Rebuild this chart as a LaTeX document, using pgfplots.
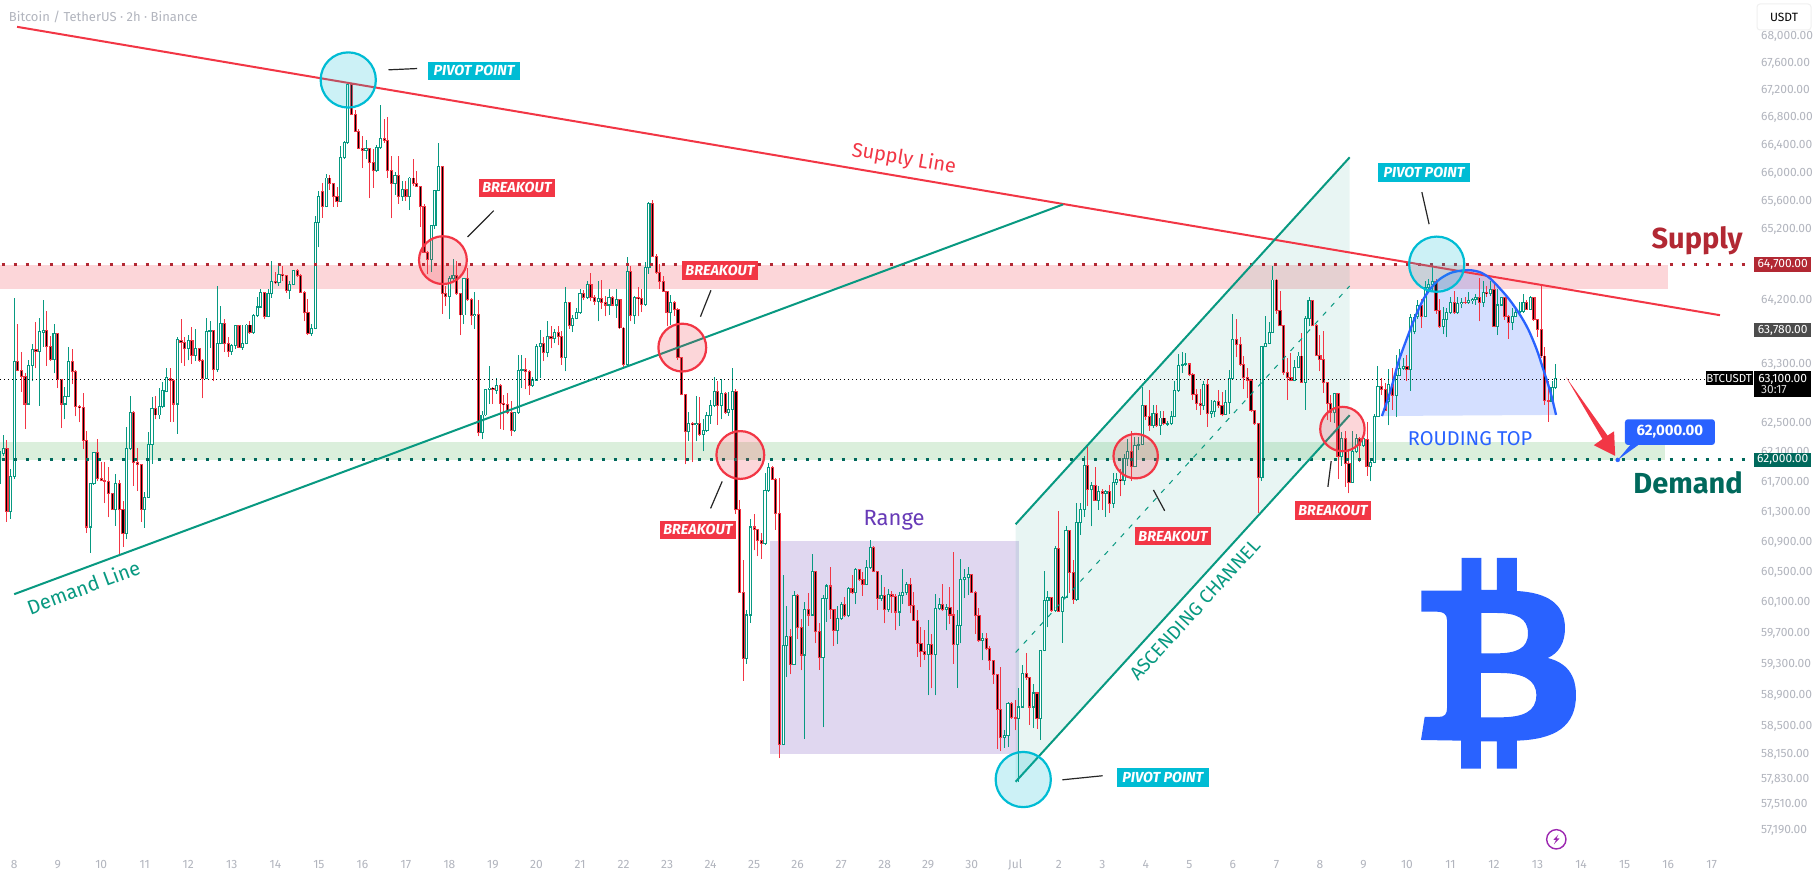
\documentclass[border=0pt]{standalone}
\usepackage{fontspec}
\setmainfont{Fira Sans}
\usepackage{pgfplots}
\usepackage{pgfplotstable}
\pgfplotsset{compat=1.18}

\definecolor{upc}{HTML}{089981}
\definecolor{dnc}{HTML}{F23645}
\definecolor{cy}{HTML}{00BCD4}
\definecolor{bl}{HTML}{2962FF}
\definecolor{pu}{HTML}{673AB7}
\definecolor{gz}{HTML}{4CAF50}
\definecolor{supd}{HTML}{B22833}
\definecolor{demd}{HTML}{00695C}
\definecolor{tickc}{HTML}{B2B5BE}
\definecolor{evc}{HTML}{9C27B0}
\newcommand{\fs}[1]{\fontsize{#1}{#1}\selectfont}

% 2h bars, n=0 is 8 Jun 00:00: n open high low close
\pgfplotstableread{
n o h l c
-4 61680 62320 61670 62110
-3 62090 62340 62060 62160
-2 62160 62270 61170 61310
-1 61310 61880 61210 61780
0 61780 64230 61740 63350
1 63350 63870 63210 63220
2 63220 63470 62930 63140
3 63140 63190 62420 62760
4 62760 63360 62750 63290
5 63290 63580 63070 63510
6 63510 63890 63250 63480
7 63480 63950 62740 63760
8 63750 64200 63550 63770
9 63770 64050 63290 63550
10 63550 63700 63350 63370
11 63370 63860 63180 63730
12 63730 63740 62980 63100
13 63100 63110 62430 62760
14 62760 62990 62550 62870
15 62870 63540 62860 63350
16 63350 63520 63030 63210
17 63210 63220 62590 62730
18 62730 62750 62510 62710
19 62710 62910 62150 62270
20 62270 62400 61020 61100
21 61100 61690 60760 61680
22 61680 62110 61670 62100
23 62100 62280 61710 61750
24 61750 61970 61710 61720
25 61720 61970 61420 61710
26 61710 61900 61230 61550
27 61550 61560 61330 61340
28 61330 61810 61120 61680
29 61680 61730 60740 61330
30 61330 61450 60840 61010
31 61010 62450 60940 62150
32 62150 62870 62140 62650
33 62650 62660 61650 61970
34 61970 62160 61580 61940
35 61940 61950 61170 61340
36 61340 61570 61090 61500
37 61500 62380 61490 62210
38 62210 62860 61950 62700
39 62700 62870 62550 62610
40 62610 62980 62560 62730
41 62730 63060 62700 62940
42 62930 63260 62920 63120
43 63110 63250 62520 63080
44 63080 63100 62520 62760
45 62760 63680 62360 63650
46 63640 63940 63320 63610
47 63610 63690 63290 63520
48 63520 63710 63360 63640
49 63640 63820 63310 63430
50 63430 63790 63350 63520
51 63520 63530 63340 63360
52 63360 63380 62840 63110
53 63110 63950 63100 63760
54 63760 63900 63530 63770
55 63770 63780 63070 63230
56 63230 64390 63200 63590
57 63590 64110 63580 63870
58 63870 63940 63480 63590
59 63590 63690 63410 63480
60 63480 63590 63440 63570
61 63570 63850 63520 63840
62 63840 63850 63530 63540
63 63540 63850 63510 63590
64 63590 63870 63580 63850
65 63850 63910 63730 63740
66 63740 64000 63730 63980
67 63980 64240 63960 64100
68 64100 64350 64090 64300
69 64300 64310 63930 63970
70 63970 64350 63960 64290
71 64290 64750 64230 64460
72 64460 64590 64420 64440
73 64440 64710 64400 64560
74 64560 64670 64470 64540
75 64540 64550 64300 64330
76 64330 64470 64220 64420
77 64420 64620 64410 64610
78 64610 64630 64520 64540
79 64540 64560 64300 64310
80 64310 64330 63900 64020
81 64020 64220 63710 63730
82 63730 63870 63700 63800
83 63800 65390 63790 65290
84 65290 65740 64940 65660
85 65730 65860 65360 65520
86 65520 65980 65510 65930
87 65930 65970 65760 65850
88 65850 65860 65520 65660
89 65660 65800 65520 65590
90 65590 66390 65580 66220
91 66220 66460 66210 66440
92 66440 67300 66420 67290
93 67290 67300 66840 66850
94 66850 66920 66590 66600
95 66600 66640 66340 66360
96 66360 66540 66070 66330
97 66330 66470 66200 66350
98 66350 66360 65640 66150
99 66150 66350 65790 66030
100 66030 66400 66020 66370
101 66370 66980 66350 66500
102 66500 66780 66440 66470
103 66470 66810 65930 66030
104 66030 66250 65350 65850
105 65850 66010 65690 65970
106 65960 66240 65560 65660
107 65660 65890 65600 65760
108 65760 65890 65600 65660
109 65660 65950 65470 65930
110 65930 66200 65810 65850
111 65850 66030 65800 65810
112 65810 65820 65230 65520
113 65520 65550 64860 64870
114 64870 64890 64560 64770
115 64770 65260 64590 65250
116 65250 65760 65200 65750
117 65750 66440 65740 66090
118 66090 66100 64010 64290
119 64290 64400 64120 64250
120 64250 64540 63930 64500
121 64500 64780 64450 64540
122 64540 64750 64270 64290
123 64290 64300 63710 63990
124 63990 64510 63860 64500
125 64500 64650 64190 64210
126 64210 64230 63850 63980
127 63980 64310 63800 64000
128 64000 64200 62320 62370
129 62370 62660 62280 62610
130 62610 62970 62590 62960
131 62960 63280 62760 62980
132 62980 63000 62760 62960
133 62950 63120 62900 63020
134 63020 63040 62420 62770
135 62770 62890 62410 62750
136 62750 62910 62620 62640
137 62640 62800 62330 62400
138 62400 62650 62380 62640
139 62640 63440 62630 63220
140 63220 63440 62980 63230
141 63230 63390 62960 63210
142 63210 63220 62890 63020
143 63020 63130 63000 63090
144 63090 63580 63080 63550
145 63550 63780 63120 63590
146 63590 63690 63350 63470
147 63470 63910 63400 63690
148 63690 63830 63530 63660
149 63660 63800 63600 63750
150 63750 63830 63570 63690
151 63690 63760 63300 63400
152 63400 64380 63210 64160
153 64160 64170 63800 63840
154 63840 63990 63750 63940
155 63940 64090 63930 64020
156 64020 64350 64010 64290
157 64290 64340 64200 64240
158 64240 64470 64210 64420
159 64420 64580 64180 64240
160 64240 64270 64130 64180
161 64180 64470 63900 64220
162 64220 64480 64070 64170
163 64170 64260 63970 64130
164 64130 64350 63990 64230
165 64230 64260 64110 64130
166 64130 64350 63950 64200
167 64200 64210 63800 63810
168 63810 63820 63270 63300
169 63300 64800 63290 64600
170 64600 64680 63900 63980
171 63980 64250 63870 64240
172 64240 64380 63970 64220
173 64220 64350 64030 64140
174 64140 64740 64120 64650
175 64650 65590 64570 65560
176 65560 65620 64800 64810
177 64810 64850 64570 64590
178 64590 64700 64350 64460
179 64460 64530 64310 64320
180 64320 64330 63830 64020
181 64020 64270 63850 64160
182 64160 64180 63980 64060
183 64060 64090 63370 63400
184 63400 63410 62880 62890
185 62890 62900 61940 62380
186 62380 62650 62260 62500
187 62500 62510 61970 62480
188 62480 62870 62250 62500
189 62500 62860 62330 62350
190 62350 62550 62120 62400
191 62400 62650 62380 62600
192 62600 62810 62490 62740
193 62740 63130 62720 62930
194 62930 63080 62480 62740
195 62740 63100 62550 62900
196 62900 62930 62630 62650
197 62650 62930 62600 62690
198 62690 63250 62350 62930
199 62930 62970 61270 61330
200 61330 61460 60230 60240
201 60240 60670 59090 59380
202 59380 60000 59310 59940
203 59940 61210 59840 61100
204 61100 61270 60790 61070
205 61070 61080 60710 60920
206 60920 61020 60680 60880
207 60880 61820 60860 61590
208 61590 61960 61570 61900
209 61900 61920 61730 61740
210 61740 61760 61060 61280
211 61280 61760 58100 58270
212 58270 60460 58260 59540
213 59540 60060 59140 59660
214 59660 59760 59170 59300
215 59300 60250 59290 60200
216 60200 60210 59630 59780
217 59780 59890 59220 59420
218 59420 60110 58340 60010
219 60010 60230 59800 59940
220 59940 60740 59930 60510
221 60510 60520 59570 59720
222 59720 59840 59230 59390
223 59390 60200 58490 60160
224 60160 60350 59850 60320
225 60320 60570 59890 60010
226 60010 60020 59540 59740
227 59740 60060 59560 59900
228 59900 60110 59880 60080
229 60080 60180 59910 59930
230 59930 60300 59910 60290
231 60290 60460 60220 60230
232 60230 60560 60080 60540
233 60540 60550 60380 60400
234 60400 60500 60190 60340
235 60340 60660 60330 60570
236 60570 60930 60550 60830
237 60830 60850 60500 60510
238 60510 60520 60010 60160
239 60160 60460 60120 60190
240 60190 60300 59830 60010
241 60010 60280 59980 60210
242 60210 60250 59970 60180
243 60180 60220 59740 59980
244 59980 60240 59800 60200
245 60200 60540 60080 60240
246 60240 60370 60200 60340
247 60340 60430 59960 60060
248 60060 60240 59860 59870
249 59870 60000 59400 59570
250 59570 59790 59260 59460
251 59460 59750 59360 59430
252 59430 59880 58900 59560
253 59560 59690 58990 59430
254 59430 60220 58900 60020
255 60020 60160 60000 60080
256 60080 60340 59990 60010
257 60010 60080 59740 60040
258 60040 60300 59820 59940
259 59940 60770 59310 59560
260 59560 60000 59000 59800
261 59800 60680 59570 60400
262 60400 60550 60160 60430
263 60430 60570 60200 60470
264 60470 60480 60230 60240
265 60240 60250 59690 59930
266 59930 60030 59590 59610
267 59610 59700 59350 59630
268 59630 59700 59480 59500
269 59500 59530 59220 59350
270 59350 59360 59050 59170
271 59170 59180 58220 58720
272 58720 59270 58190 58360
273 58360 58450 58230 58390
274 58390 58810 58240 58800
275 58800 58820 58600 58610
276 58610 58840 58450 58600
277 58600 58990 57800 58750
278 58750 59290 58740 59180
279 59180 59440 59100 59130
280 59130 59140 58520 58750
281 58750 59050 58480 58930
282 58930 58940 58470 58600
283 58600 59490 58330 59480
284 59480 60520 59470 60130
285 60130 60250 59780 60170
286 60170 60180 59980 60000
287 60000 60850 59980 60820
288 60820 61320 59980 59990
289 59990 60190 59580 60170
290 60170 61110 60160 61050
291 61050 61060 60230 60500
292 60500 60670 60090 60140
293 60140 61420 60130 61160
294 61160 61420 61000 61340
295 61340 62050 61240 61920
296 61920 62200 61380 61600
297 61600 61700 61110 61650
298 61650 61900 61450 61460
299 61460 61650 61330 61580
300 61580 61610 61330 61550
301 61550 61590 61240 61570
302 61570 61660 61290 61420
303 61420 61830 61360 61700
304 61700 61830 61670 61740
305 61740 61880 61510 61720
306 61720 62080 61660 62020
307 62020 62290 61920 62120
308 62120 62390 61720 61910
309 61910 62310 61900 62200
310 62200 62310 62130 62210
311 62210 62990 62200 62740
312 62740 62750 62540 62590
313 62590 62950 62400 62470
314 62470 62750 62430 62630
315 62630 62750 62450 62470
316 62470 62660 62340 62570
317 62570 62670 62470 62490
318 62480 62530 62460 62490
319 62490 62660 62470 62590
320 62590 63080 62580 62950
321 62950 63450 62930 63290
322 63290 63470 63190 63300
323 63300 63460 63280 63310
324 63310 63320 63140 63160
325 63160 63180 62820 62890
326 62890 62960 62680 62770
327 62770 62960 62610 62740
328 62740 63070 62680 63030
329 63030 63100 62450 62630
330 62630 62820 62570 62660
331 62660 62820 62580 62800
332 62800 62950 62700 62740
333 62740 62930 62590 62620
334 62620 62950 62610 62780
335 62780 63220 62630 63110
336 63110 64010 63090 63650
337 63650 63930 63400 63580
338 63580 63680 63290 63300
339 63300 63420 62960 63120
340 63120 63250 62840 63090
341 63090 63110 62650 62670
342 62670 62680 62480 62490
343 62490 62500 61290 61760
344 61760 63560 61720 63550
345 63550 63980 63540 63590
346 63590 63890 63580 63750
347 63750 64680 63740 64480
348 64480 64490 64010 64050
349 64050 64320 63830 63840
350 63840 63850 63160 63190
351 63190 63390 62820 63130
352 63130 63460 63070 63080
353 63080 63370 63070 63260
354 63260 63470 63250 63420
355 63420 63740 63050 63060
356 63060 63970 62680 63940
357 63940 64240 63830 64190
358 64190 64200 63830 63840
359 63840 63860 63420 63430
360 63430 63710 63210 63370
361 63370 63770 62910 63050
362 63050 63060 62540 62770
363 62770 62890 62520 62640
364 62640 62910 62500 62900
365 62900 62910 61740 62050
366 62050 62380 61920 62290
367 62290 62400 61640 61950
368 61950 62150 61550 61700
369 61700 62400 61690 62110
370 62110 62360 62100 62290
371 62290 62310 61970 62200
372 62200 62340 62180 62290
373 62280 62520 61790 61910
374 61910 62000 61710 61970
375 61970 62630 61960 62590
376 62590 63290 62580 63000
377 63000 63120 62890 62960
378 62960 63050 62660 62670
379 62800 63240 62470 63030
380 63030 63260 62680 62880
381 62880 63440 62580 63150
382 63150 63520 63140 63250
383 63250 63390 63230 63280
384 63280 63430 63080 63230
385 63230 64010 62940 63950
386 63760 64010 63720 63950
387 63970 64200 63940 64120
388 64120 64220 63810 63970
389 63970 64470 63960 64370
390 64370 64490 64330 64420
391 64420 64680 64330 64460
392 64460 64490 64010 64050
393 64050 64220 63810 63830
394 63830 64100 63720 63930
395 63930 64080 63680 64030
396 64030 64240 64010 64160
397 64160 64320 64010 64020
398 64020 64240 64000 64150
399 64150 64230 64080 64170
400 64170 64240 64150 64160
401 64160 64310 64150 64190
402 64190 64230 64150 64210
403 64210 64290 64130 64240
404 64240 64510 63900 64170
405 64170 64470 64100 64310
406 64310 64400 64240 64290
407 64290 64470 64260 64350
408 64350 64450 63820 63830
409 63830 64360 63710 64130
410 64130 64240 64120 64230
411 64230 64240 63920 63970
412 63970 63990 63660 63890
413 63890 64080 63780 63970
414 63970 64080 63960 64030
415 64030 64170 63990 64040
416 64040 64290 64020 64170
417 64170 64200 64060 64070
418 64070 64260 64060 64230
419 64230 64240 63910 63930
420 63930 63940 63690 63790
421 63790 64430 63390 63420
422 63420 63550 62750 62810
423 62810 63070 62520 62800
424 62800 63070 62790 62990
425 62990 63310 62960 63110
}\bars

% collect the table rows into coordinate lists, one list per colour and layer
\pgfplotstablegetrowsof{\bars}
\pgfmathtruncatemacro{\lastrow}{\pgfplotsretval-1}
\gdef\upw{}\gdef\dnw{}\gdef\upb{}\gdef\dnb{}\gdef\upi{}\gdef\dni{}
\newcommand{\addbar}[3]{%
  \xdef#1{#1(\bn,\bl)(\bn,\bh)\noexpand\par}%
  \xdef#2{#2(\bn,\the\numexpr\bbot-7\relax)(\bn,\the\numexpr\btop+7\relax)\noexpand\par}%
  \ifnum\numexpr\btop-\bbot\relax>14
    \xdef#3{#3(\bn,\the\numexpr\bbot+7\relax)(\bn,\the\numexpr\btop-7\relax)\noexpand\par}%
  \fi}
\pgfplotsforeachungrouped \i in {0,...,\lastrow}{%
  \pgfplotstablegetelem{\i}{n}\of\bars\let\bn\pgfplotsretval
  \pgfplotstablegetelem{\i}{o}\of\bars\let\bo\pgfplotsretval
  \pgfplotstablegetelem{\i}{h}\of\bars\let\bh\pgfplotsretval
  \pgfplotstablegetelem{\i}{l}\of\bars\let\bl\pgfplotsretval
  \pgfplotstablegetelem{\i}{c}\of\bars\let\bc\pgfplotsretval
  \ifnum\bo<\bc \let\bbot\bo\let\btop\bc \addbar{\upw}{\upb}{\upi}%
  \else \let\bbot\bc\let\btop\bo \addbar{\dnw}{\dnb}{\dni}\fi}
\newcommand{\drawlist}[3]{%
  \edef\temp{\noexpand\addplot[color=#2, line width=#3, forget plot] coordinates {#1};}\temp}

\begin{document}
\begin{tikzpicture}[
  tag/.style={inner sep=0pt, text=white, minimum height=18.7pt,
    font=\fs{14.5}\bfseries\itshape},
  brk/.style={tag, fill=dnc, minimum width=76pt},
  pvt/.style={tag, fill=cy, minimum width=91.5pt},
  pbox/.style={anchor=west, inner sep=0pt, text=white, minimum width=56.8pt,
    minimum height=14.7pt, font=\fs{12}}]
\fill[white] (0,0) rectangle (1815pt,878pt);
\useasboundingbox (0,0) rectangle (1815pt,878pt);
\begin{axis}[
  at={(0,30pt)}, anchor=south west,
  scale only axis, width=1751pt, height=848pt,
  % log price scale; ymode=log overflows on so narrow a range
  y coord trafo/.code={\begingroup\pgfkeys{/pgf/fpu=true,/pgf/fpu/output format=fixed}%
    \pgfmathparse{1000*ln(#1/57000)}\global\let\ytr\pgfmathresult\endgroup\let\pgfmathresult\ytr},
  clip=false,
  xmin=-3.915, xmax=478.85, ymin=56973, ymax=68535.5,
  axis line style={draw=none}, tick style={draw=none}, major tick length=0pt,
  xtick={0,12,...,468},
  xticklabels={8,9,10,11,12,13,14,15,16,17,18,19,20,21,22,23,24,25,26,27,28,29,30,Jul,2,3,4,5,6,7,8,9,10,11,12,13,14,15,16,17},
  xticklabel style={anchor=center, yshift=-16.7pt, text=tickc, font=\fs{12}},
  yticklabel pos=right,
  ytick={68000,67600,67200,66800,66400,66000,65600,65200,64200,63300,62500,62100,61700,61300,60900,60500,60100,59700,59300,58900,58500,58150,57830,57510,57190},
  yticklabels={{68,000.00},{67,600.00},{67,200.00},{66,800.00},{66,400.00},{66,000.00},{65,600.00},{65,200.00},{64,200.00},{63,300.00},{62,500.00},{62,100.00},{61,700.00},{61,300.00},{60,900.00},{60,500.00},{60,100.00},{59,700.00},{59,300.00},{58,900.00},{58,500.00},{58,150.00},{57,830.00},{57,510.00},{57,190.00}},
  yticklabel style={anchor=west, inner sep=0pt, xshift=10pt, text=tickc, font=\fs{12}},
]
% zones
\addplot[fill=dnc, fill opacity=.2, draw=none, forget plot] coordinates {(-3.915,64690) (456,64690) (456,64352) (-3.915,64352)};
\addplot[fill=gz, fill opacity=.2, draw=none, forget plot] coordinates {(-3.915,62241) (455.1,62241) (455.1,62000) (-3.915,62000)};
\addplot[fill=pu, fill opacity=.2, draw=none, forget plot] coordinates {(208.4,60912) (277,60912) (277,58153) (208.4,58153)};
\addplot[fill=upc, fill opacity=.09, draw=none, forget plot] coordinates {(276.1,57800) (368.2,62608) (368.2,66226) (276.1,61138)};
\addplot[fill=bl, fill opacity=.2, draw=none, forget plot] coordinates {(377.1,62597) (379.4,62932) (381.7,63346) (384,63667) (386.3,63966) (388.6,64218) (390.8,64379) (393.1,64494) (395.9,64576) (398.7,64609) (401.4,64618) (404.2,64586) (406.9,64503) (409.7,64356) (412.4,64195) (415.2,63989) (417.5,63782) (419.8,63506) (421.6,63231) (423.5,62932) (425.1,62611)};

% candles
\drawlist{\upw}{upc}{1pt}
\drawlist{\dnw}{dnc}{1pt}
\drawlist{\upb}{upc}{3.2pt}
\drawlist{\dnb}{dnc}{3.2pt}
\drawlist{\upi}{white}{1.1pt}
\drawlist{\dni}{black}{1.1pt}

% levels
\addplot[color=black, line width=1pt, dash pattern=on 1.3pt off 2.7pt, forget plot] coordinates {(-3.915,63100) (478.85,63100)};
\addplot[color=supd, line width=3pt, dash pattern=on 3pt off 9pt, forget plot] coordinates {(-3.5,64700) (478.85,64700)};
\addplot[color=demd, line width=3pt, dash pattern=on 3pt off 9pt, forget plot] coordinates {(-3.5,62000) (478.85,62000)};

% trend lines and channel
\addplot[color=dnc, line width=2pt, forget plot] coordinates {(0.8,68138) (470.3,63988)};
\addplot[color=upc, line width=2pt, forget plot] coordinates {(0,60213) (289.2,65551)};
\addplot[color=upc, line width=2pt, forget plot] coordinates {(276.1,57800) (368.2,62608)};
\addplot[color=upc, line width=2pt, forget plot] coordinates {(276.1,61138) (368.2,66226)};
\addplot[color=upc, line width=1pt, dash pattern=on 5pt off 7pt, forget plot] coordinates {(276.1,59452) (368.2,64394)};
\addplot[color=bl, line width=2.3pt, smooth, forget plot] coordinates {(377.1,62597) (379.4,62932) (381.7,63346) (384,63667) (386.3,63966) (388.6,64218) (390.8,64379) (393.1,64494) (395.9,64576) (398.7,64609) (401.4,64618) (404.2,64586) (406.9,64503) (409.7,64356) (412.4,64195) (415.2,63989) (417.5,63782) (419.8,63506) (421.6,63231) (423.5,62932) (425.1,62611)};

% arrow and price callout tail
\addplot[fill=dnc, draw=none, forget plot] coordinates {(427.9,63126) (439.3,62330) (441.1,62389) (441.4,62055) (435.5,62200) (437.9,62283)};
\addplot[fill=bl, draw=none, forget plot] coordinates {(442.1,62000) (445.5,62200) (447.7,62200)};
\addplot[only marks, mark=*, mark size=2pt, color=bl, forget plot] coordinates {(442.1,62000)};

% circles
\addplot[only marks, mark=*, mark size=27.6pt, forget plot, mark options={fill=cy, fill opacity=.2, draw=cy, draw opacity=1, line width=2.2pt}] coordinates {(92.1,67353) (278.2,57828) (392.2,64705)};
\addplot[only marks, mark=*, mark size=23.9pt, forget plot, mark options={fill=dnc, fill opacity=.2, draw=dnc, draw opacity=1, line width=2.2pt}] coordinates {(118.2,64759) (184.2,63536) (200.2,62068)};
\addplot[only marks, mark=*, mark size=22.2pt, forget plot, mark options={fill=dnc, fill opacity=.2, draw=dnc, draw opacity=1, line width=2.2pt}] coordinates {(309.2,62052) (366.2,62420)};

% callout ticks
\addplot[color=black!85, line width=1.2pt, forget plot] coordinates {(103.2,67501) (111.1,67520)};
\addplot[color=black!85, line width=1.2pt, forget plot] coordinates {(125,65088) (132.2,65460)};
\addplot[color=black!85, line width=1.2pt, forget plot] coordinates {(189.2,63965) (192.1,64336)};
\addplot[color=black!85, line width=1.2pt, forget plot] coordinates {(192,61348) (195.2,61711)};
\addplot[color=black!85, line width=1.2pt, forget plot] coordinates {(314.1,61596) (317.2,61317)};
\addplot[color=black!85, line width=1.2pt, forget plot] coordinates {(362.2,61637) (363.1,61986)};
\addplot[color=black!85, line width=1.2pt, forget plot] coordinates {(388.1,65726) (390.1,65268)};
\addplot[color=black!85, line width=1.2pt, forget plot] coordinates {(289,57825) (300.1,57875)};

% text on the chart
\node[anchor=west, inner sep=0pt, text=tickc, font=\fs{13}] at (axis cs:-1.5,68287) {Bitcoin / TetherUS · 2h · Binance};
\node[pvt] at (axis cs:126.8,67485) {PIVOT POINT};
\node[pvt] at (axis cs:388.7,66004) {PIVOT POINT};
\node[pvt] at (axis cs:316.7,57855) {PIVOT POINT};
\node[brk] at (axis cs:138.6,65787) {BREAKOUT};
\node[brk] at (axis cs:194.6,64608) {BREAKOUT};
\node[brk] at (axis cs:188.5,61063) {BREAKOUT};
\node[brk] at (axis cs:319.5,60980) {BREAKOUT};
\node[brk] at (axis cs:363.6,61324) {BREAKOUT};
\node[rotate=-9.6, text=dnc, font=\fs{20}] at (axis cs:245.3,66200) {Supply Line};
\node[rotate=20.4, text=upc, font=\fs{20}] at (axis cs:19.1,60304) {Demand Line};
\node[text=pu, font=\fs{22}] at (axis cs:242.6,61193) {Range};
\node[rotate=47.7, text=upc, font=\fs{19}] at (axis cs:325.6,60008) {ASCENDING CHANNEL};
\node[text=bl, font=\fs{20}] at (axis cs:401.4,62292) {ROUDING TOP};
\node[text=supd, font=\fs{29}\bfseries] at (axis cs:464,65040) {Supply};
\node[text=demd, font=\fs{29}\bfseries] at (axis cs:461.5,61688) {Demand};
\node[fill=bl, text=white, rounded corners=3pt, minimum width=90pt, minimum height=25.7pt, inner sep=0pt, font=\fs{15}\bfseries] at (axis cs:456.5,62378) {62,000.00};

% anchors for the price scale boxes
\coordinate (a) at (axis cs:479.7,64700);
\coordinate (b) at (axis cs:479.7,63780);
\coordinate (c) at (axis cs:479.7,62000);
\coordinate (d) at (axis cs:479.7,63033);
\coordinate (e) at (axis cs:479.7,63100);
\coordinate (f) at (axis cs:481.6,62956);
\coordinate (g) at (axis cs:472.8,63115);
\end{axis}

\node[pbox, fill=supd] at (a) {64,700.00};
\node[pbox, fill=black!70] at (b) {63,780.00};
\node[pbox, fill=demd] at (c) {62,000.00};
\node[anchor=west, fill=black, minimum width=56.8pt, minimum height=26.3pt, inner sep=0pt] at (d) {};
\node[pbox] at (e) {63,100.00};
\node[anchor=west, inner sep=0pt, text=black!15, font=\fs{12}] at (f) {30:17};
\node[fill=black, text=white, minimum width=47pt, minimum height=14.3pt, inner sep=0pt, font=\fs{11.5}] at (g) {BTCUSDT};
\node[fill=white, draw=black!6, line width=1pt, rounded corners=3pt, minimum width=54pt, minimum height=26pt, inner sep=0pt, font=\fs{12}] at (1784pt,861pt) {USDT};

% logo and event icon, drawn in the crop's pixel grid
\begin{scope}[shift={(1300pt,338pt)}, x=0.3333pt, y=-0.3333pt]
\fill[bl, even odd rule]
  (364,152) -- (485,152) -- (485,54) -- (544,54) -- (544,150) -- (591,150) -- (591,54) -- (651,54) -- (651,153)
  .. controls (740,158) and (795,190) .. (795,265)
  .. controls (795,310) and (775,340) .. (743,354)
  .. controls (800,368) and (828,405) .. (828,465)
  .. controls (828,560) and (765,598) .. (651,602)
  -- (651,686) -- (591,686) -- (591,604) -- (543,604) -- (543,686) -- (483,686) -- (483,602) -- (363,600) -- (374,531) -- (415,531)
  .. controls (435,531) and (441,522) .. (441,505)
  -- (441,240)
  .. controls (441,222) and (430,215) .. (410,215)
  -- (364,215) -- cycle
  (544,219) -- (590,219) .. controls (650,219) and (684,235) .. (684,280)
  .. controls (684,325) and (650,340) .. (590,340) -- (544,340) -- cycle
  (543,399) -- (600,399) .. controls (670,399) and (709,420) .. (709,465)
  .. controls (709,515) and (670,532) .. (600,532) -- (543,532) -- cycle;
\draw[evc, line width=1.4pt] (769,898) circle [radius=29];
\fill[evc] (775,884) -- (760,900) -- (768,900) -- (762,913) -- (779,895) -- (770,895) -- cycle;
\end{scope}
\end{tikzpicture}
\end{document}
